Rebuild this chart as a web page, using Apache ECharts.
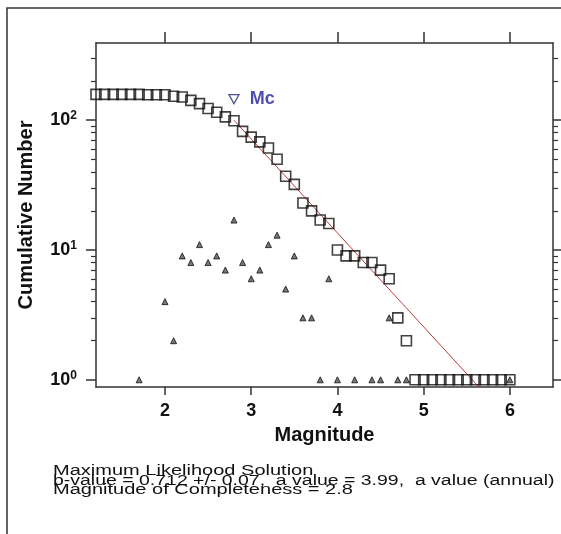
<!DOCTYPE html>
<html>
<head>
<meta charset="utf-8">
<script src="https://cdn.jsdelivr.net/npm/echarts@6/dist/echarts.min.js"></script>
<style>
  html, body { margin: 0; padding: 0; background: #fff; }
  #chart-id { width: 561px; height: 534px; }
</style>
</head>
<body>
<div id="chart-id"></div>
<script>
// magnitude bins (0.1 steps) and cumulative number of events >= M
var magnitudes = [1.2, 1.3, 1.4, 1.5, 1.6, 1.7, 1.8, 1.9, 2.0, 2.1,
  2.2, 2.3, 2.4, 2.5, 2.6, 2.7, 2.8, 2.9, 3.0, 3.1,
  3.2, 3.3, 3.4, 3.5, 3.6, 3.7, 3.8, 3.9, 4.0, 4.1,
  4.2, 4.3, 4.4, 4.5, 4.6, 4.7, 4.8, 4.9, 5.0, 5.1,
  5.2, 5.3, 5.4, 5.5, 5.6, 5.7, 5.8, 5.9, 6.0];
var cumulativeNumber = [158, 158, 158, 158, 158, 158, 157, 157, 157, 153,
  151, 142, 134, 123, 115, 106, 99, 82, 74, 68,
  61, 50, 37, 32, 23, 20, 17, 16, 10, 9,
  9, 8, 8, 7, 6, 3, 2, 1, 1, 1,
  1, 1, 1, 1, 1, 1, 1, 1, 1];

// non-cumulative number per bin (empty bins left out)
var binMagnitudes = [1.7, 2.0, 2.1, 2.2, 2.3, 2.4, 2.5, 2.6, 2.7, 2.8,
  2.9, 3.0, 3.1, 3.2, 3.3, 3.4, 3.5, 3.6, 3.7, 3.8,
  3.9, 4.0, 4.2, 4.4, 4.5, 4.6, 4.7, 4.8, 6.0];
var binCounts = [1, 4, 2, 9, 8, 11, 8, 9, 7, 17,
  8, 6, 7, 11, 13, 5, 9, 3, 3, 1,
  6, 1, 1, 1, 1, 3, 1, 1, 1];

// maximum likelihood fit (start at Mc, end at bottom of plot)
var fitMagnitudes = [2.8, 5.64];
var fitNumbers = [100, 0.88];

var mcMagnitude = 2.8;
var mcMarkerY = 145;

var xTicks = [2, 3, 4, 5, 6];
var yMajorTicks = [1, 10, 100];
var yMinorTicks = [2, 3, 4, 5, 6, 7, 8, 9, 20, 30, 40, 50, 60, 70, 80, 90, 200, 300];

var FONT = 'Liberation Sans, Arial, sans-serif';

var chartDom = document.getElementById('chart-id');
var myChart = echarts.init(chartDom, null, {renderer: 'canvas'});

function zip(a, b) {
  return a.map(function (v, i) { return [v, b[i]]; });
}

var xCommon = {
  type: 'value',
  min: 1.2,
  max: 6.5,
  splitLine: {show: false},
  axisLine: {show: true, lineStyle: {color: '#333', width: 1.5}}
};
var yCommon = {
  type: 'log',
  logBase: 10,
  min: 0.88,
  max: 393,
  splitLine: {show: false},
  minorTick: {show: false}
};

var option = {
  animation: false,
  backgroundColor: '#fff',
  grid: {left: 96, right: 8, top: 43, bottom: 147, containLabel: false, outerBoundsMode: 'none'},
  graphic: [
    {
      type: 'rect',
      shape: {x: 7, y: 8, width: 700, height: 700},
      style: {fill: 'none', stroke: '#333', lineWidth: 1.5},
      silent: true
    },
    {
      type: 'text', x: 53, y: 464.5, scaleX: 1.43,
      style: {text: 'Maximum Likelihood Solution', font: '14px ' + FONT, fill: '#111', verticalAlign: 'top'}
    },
    {
      type: 'text', x: 53, y: 474, scaleX: 1.39,
      style: {text: 'b-value = 0.712 +/- 0.07,  a value = 3.99,  a value (annual)', font: '14px ' + FONT, fill: '#111', verticalAlign: 'top'}
    },
    {
      type: 'text', x: 53, y: 483.5, scaleX: 1.43,
      style: {text: 'Magnitude of Completeness = 2.8', font: '14px ' + FONT, fill: '#111', verticalAlign: 'top'}
    }
  ],
  xAxis: [
    Object.assign({}, xCommon, {
      position: 'bottom',
      name: 'Magnitude',
      nameLocation: 'middle',
      nameGap: 38,
      nameTextStyle: {fontFamily: FONT, fontSize: 20, fontWeight: 'bold', color: '#111'},
      axisTick: {show: true, length: 8, customValues: xTicks, lineStyle: {color: '#333', width: 1.5}},
      axisLabel: {show: true, customValues: xTicks, margin: 15, fontFamily: FONT, fontSize: 18, fontWeight: 'bold', color: '#111'}
    }),
    Object.assign({}, xCommon, {
      position: 'top',
      axisTick: {show: true, length: 11, customValues: xTicks, lineStyle: {color: '#333', width: 1.5}},
      axisLabel: {show: false}
    })
  ],
  yAxis: [
    Object.assign({}, yCommon, {
      position: 'left',
      name: 'Cumulative Number',
      nameLocation: 'middle',
      nameGap: 60,
      nameTextStyle: {fontFamily: FONT, fontSize: 20, fontWeight: 'bold', color: '#111'},
      axisLine: {show: true, lineStyle: {color: '#333', width: 1.5}},
      axisTick: {show: true, length: 10, customValues: yMajorTicks, lineStyle: {color: '#333', width: 1.5}},
      axisLabel: {
        show: true,
        customValues: yMajorTicks,
        margin: 19,
        formatter: function (v) {
          return '{b|10}{s|' + Math.round(Math.log10(v)) + '}';
        },
        rich: {
          b: {fontFamily: FONT, fontSize: 18, fontWeight: 'bold', color: '#111', lineHeight: 20},
          s: {fontFamily: FONT, fontSize: 12, fontWeight: 'bold', color: '#111', verticalAlign: 'top'}
        }
      }
    }),
    Object.assign({}, yCommon, {
      position: 'left',
      axisLine: {show: false},
      axisTick: {show: true, length: 5, customValues: yMinorTicks, lineStyle: {color: '#333', width: 1.2}},
      axisLabel: {show: false}
    }),
    Object.assign({}, yCommon, {
      position: 'right',
      axisLine: {show: true, lineStyle: {color: '#333', width: 1.5}},
      axisTick: {show: true, length: 10, customValues: yMajorTicks, lineStyle: {color: '#333', width: 1.5}},
      axisLabel: {show: false}
    }),
    Object.assign({}, yCommon, {
      position: 'right',
      axisLine: {show: false},
      axisTick: {show: true, length: 5, customValues: yMinorTicks, lineStyle: {color: '#333', width: 1.2}},
      axisLabel: {show: false}
    })
  ],
  series: [
    {
      name: 'fit',
      type: 'line',
      data: zip(fitMagnitudes, fitNumbers),
      showSymbol: false,
      symbol: 'none',
      lineStyle: {color: '#c03a3a', width: 1},
      z: 2
    },
    {
      name: 'cumulative',
      type: 'scatter',
      data: zip(magnitudes, cumulativeNumber),
      symbol: 'rect',
      symbolSize: 10,
      itemStyle: {color: 'rgba(0,0,0,0)', borderColor: '#111', borderWidth: 1.6},
      z: 3
    },
    {
      name: 'per bin',
      type: 'scatter',
      data: zip(binMagnitudes, binCounts),
      symbol: 'triangle',
      symbolSize: 6,
      itemStyle: {color: '#555', borderColor: '#111', borderWidth: 1},
      z: 3
    },
    {
      name: 'Mc',
      type: 'scatter',
      data: [[mcMagnitude, mcMarkerY]],
      symbol: 'triangle',
      symbolRotate: 180,
      symbolSize: [10, 9],
      itemStyle: {color: '#fff', borderColor: '#22227a', borderWidth: 1.3},
      label: {
        show: true,
        position: 'right',
        distance: 10,
        formatter: 'Mc',
        fontFamily: FONT,
        fontSize: 18,
        fontWeight: 'bold',
        color: '#1e1e9c'
      },
      z: 4
    }
  ]
};

option && myChart.setOption(option);
</script>
</body>
</html>
